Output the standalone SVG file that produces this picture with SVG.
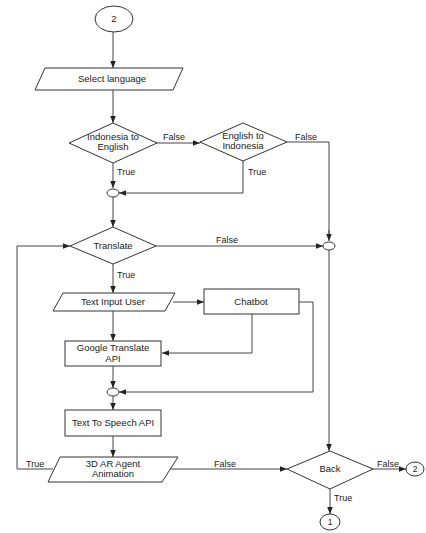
<svg xmlns="http://www.w3.org/2000/svg" width="426" height="533" viewBox="0 0 426 533">
<defs>
<marker id="ah" viewBox="0 0 10 10" refX="10" refY="5" markerWidth="7" markerHeight="7" markerUnits="userSpaceOnUse" orient="auto">
<path d="M0,1 L10,5 L0,9 z" fill="#222"/>
</marker>
<style>
.s{fill:#fff;stroke:#333;stroke-width:1}
.c{fill:none;stroke:#444;stroke-width:1}
.a{marker-end:url(#ah)}
text{font-family:"Liberation Sans",Arial,sans-serif;font-size:9.5px;fill:#222;text-anchor:middle}
.l{font-size:9px;text-anchor:start}
</style>
</defs>
<rect width="426" height="533" fill="#fff"/>
<g id="connectors">
<path class="c a" d="M113,32 V68"/>
<path class="c a" d="M113,90 V123"/>
<path class="c a" d="M156,143 H200"/>
<path class="c a" d="M113,163 V188"/>
<path class="c" d="M287,142 H329 V236"/>
<path class="c a" d="M243,161 V193 H119"/>
<path class="c a" d="M113,197 V227"/>
<path class="c a" d="M156,246 H323"/>
<path class="c a" d="M113,264 V293"/>
<path class="c a" d="M173,302 H204"/>
<path class="c a" d="M252,314 V353 H162"/>
<path class="c a" d="M113,311 V341"/>
<path class="c a" d="M299,302 H313 V392 H119"/>
<path class="c a" d="M113,366 V388"/>
<path class="c a" d="M113,396 V410"/>
<path class="c a" d="M113,436 V457"/>
<path class="c a" d="M53,469 H17 V246 H70"/>
<path class="c a" d="M170,469 H287"/>
<path class="c a" d="M329,250 V451"/>
<path class="c a" d="M373,469 H406"/>
<path class="c a" d="M330,489 V514"/>
<path class="c a" d="M329,230 V241"/>
</g>
<g id="start2"><ellipse class="s" cx="114" cy="19" rx="19" ry="13"/><text x="114" y="22">2</text></g>
<g id="select"><polygon class="s" points="45,68 183,68 173,90 35,90"/><text x="112" y="82">Select language</text></g>
<g id="ind2eng"><polygon class="s" points="113,123 157,143 113,163 69,143"/><text x="113" y="140">Indonesia to</text><text x="113" y="150">English</text></g>
<g id="eng2ind"><polygon class="s" points="243,123 287,142 243,161 200,142"/><text x="243" y="139">English to</text><text x="243" y="149">Indonesia</text></g>
<g id="merge1"><ellipse class="s" cx="113" cy="193" rx="6" ry="4"/></g>
<g id="merge2"><ellipse class="s" cx="329" cy="246" rx="6" ry="4"/></g>
<g id="translate"><polygon class="s" points="113,227 156,246 113,264 70,246"/><text x="113" y="249">Translate</text></g>
<g id="textinput"><polygon class="s" points="63,293 175,293 165,311 53,311"/><text x="113" y="305">Text Input User</text></g>
<g id="chatbot"><rect class="s" x="204" y="289" width="95" height="25"/><text x="251" y="305">Chatbot</text></g>
<g id="google"><rect class="s" x="65" y="341" width="96" height="25"/><text x="113" y="351">Google Translate</text><text x="113" y="362">API</text></g>
<g id="merge3"><ellipse class="s" cx="113" cy="392" rx="6" ry="4"/></g>
<g id="tts"><rect class="s" x="65" y="410" width="96" height="26"/><text x="113" y="426">Text To Speech API</text></g>
<g id="ar"><polygon class="s" points="60,457 178,457 162,482 48,482"/><text x="113" y="467">3D AR Agent</text><text x="113" y="477">Animation</text></g>
<g id="back"><polygon class="s" points="330,451 373,469 330,489 287,469"/><text x="330" y="472">Back</text></g>
<g id="end2"><ellipse class="s" cx="415" cy="469" rx="9" ry="7"/><text x="415" y="472" style="font-size:8.5px">2</text></g>
<g id="end1"><ellipse class="s" cx="330" cy="522" rx="10" ry="8"/><text x="330" y="525" style="font-size:8.5px">1</text></g>
<g id="labels">
<text class="l" x="163" y="140">False</text>
<text class="l" x="295" y="140">False</text>
<text class="l" x="117" y="175">True</text>
<text class="l" x="248" y="175">True</text>
<text class="l" x="216" y="243">False</text>
<text class="l" x="117" y="278">True</text>
<text class="l" x="26" y="467">True</text>
<text class="l" x="214" y="467">False</text>
<text class="l" x="377" y="467">False</text>
<text class="l" x="334" y="501">True</text>
</g>
</svg>
